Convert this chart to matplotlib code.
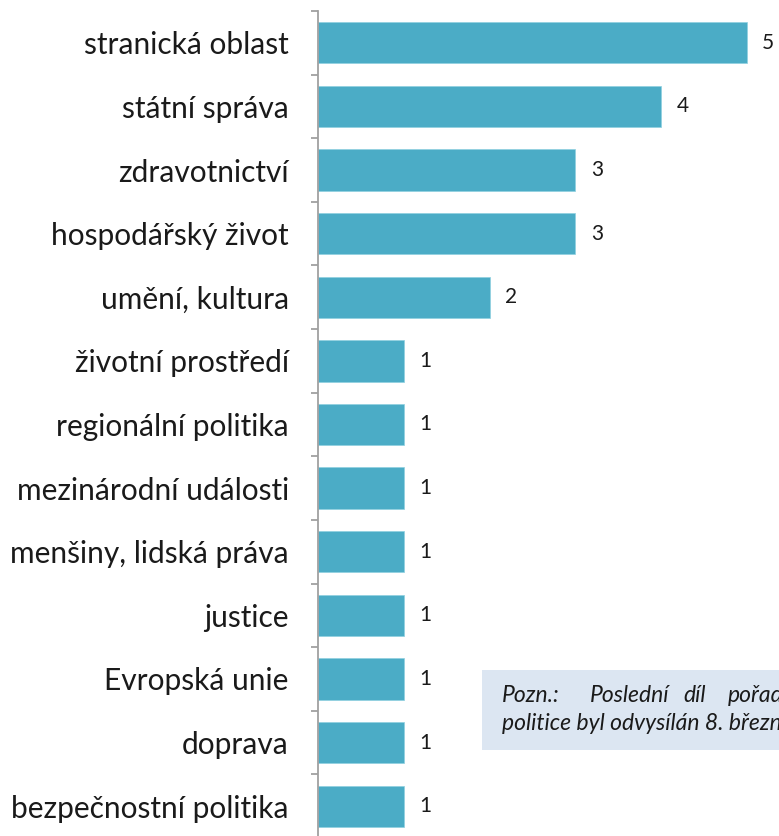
import matplotlib
matplotlib.use('Agg')
import matplotlib.pyplot as plt
from matplotlib.patches import Rectangle

# Oblasti témat
categories = ['stranická oblast', 'státní správa', 'zdravotnictví', 'hospodářský život',
              'umění, kultura', 'životní prostředí', 'regionální politika',
              'mezinárodní události', 'menšiny, lidská práva', 'justice',
              'Evropská unie', 'doprava', 'bezpečnostní politika']
values = [5, 4, 3, 3, 2, 1, 1, 1, 1, 1, 1, 1, 1]
note_words1 = ['Pozn.:', 'Poslední', 'díl', 'pořadu']
note_line2 = 'politice byl odvysílán 8. března'

plt.rcParams['font.family'] = ['Lato', 'DejaVu Sans']

W, H = 779, 836
fig = plt.figure(figsize=(W / 100, H / 100), dpi=100)
ax = fig.add_axes([318 / W, (H - 838) / H, (W - 318) / W, 827 / H])

pos = list(range(len(categories)))
bars = ax.barh(pos, values, height=0.65, color='#4BACC6', edgecolor='#8fd0e0', linewidth=0.5)
ax.set_ylim(len(categories) - 0.5, -0.5)
ax.set_xlim(0, (W - 318) / 85.8)

for b, v in zip(bars, values):
    ax.annotate(str(v), (b.get_width(), b.get_y() + b.get_height() / 2),
                xytext=(11, 0), textcoords='offset points', va='center', ha='left',
                fontsize=15, color='#1a1a1a')

ax.set_yticks(pos)
ax.set_yticklabels(categories, fontsize=21.5, color='#1a1a1a')
ax.set_yticks([p - 0.5 for p in pos] + [len(pos) - 0.5], minor=True)
ax.tick_params(axis='y', which='major', length=0, pad=21)
ax.tick_params(axis='y', which='minor', length=5, width=1.3, color='#a0a0a0', direction='out')
ax.set_xticks([])
for s in ['top', 'right', 'bottom']:
    ax.spines[s].set_visible(False)
ax.spines['left'].set_color('#a0a0a0')
ax.spines['left'].set_linewidth(1.3)

# poznámka (v originále oříznutá pravým okrajem)
fig.patches.append(Rectangle((482 / W, (H - 750) / H), 400 / W, 80 / H,
                             transform=fig.transFigure, facecolor='#DCE6F2', edgecolor='none'))
for word, x in zip(note_words1, [502, 590, 683, 728]):
    fig.text(x / W, (H - 696) / H, word, fontsize=16.5, style='italic', va='center', color='#1a1a1a')
fig.text(502 / W, (H - 723) / H, note_line2, fontsize=16.5, style='italic', va='center', color='#1a1a1a')

fig.savefig('out.png', dpi=100)
